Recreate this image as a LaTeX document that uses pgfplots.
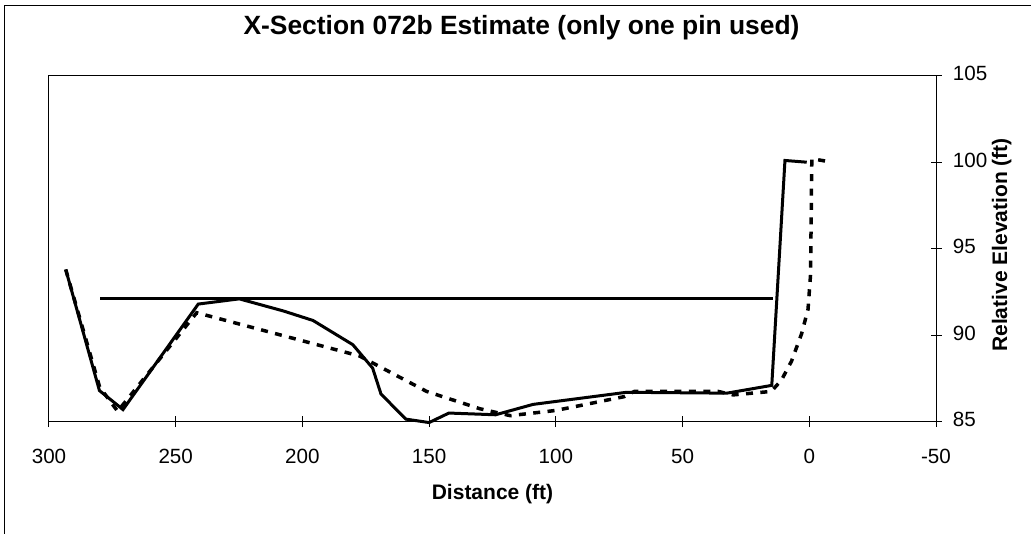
\documentclass[border=0pt]{standalone}
\usepackage{fontspec}
\setmainfont{Liberation Sans}
\usepackage{pgfplots}
\pgfplotsset{compat=1.18}

\begin{document}
\begin{tikzpicture}
% chart frame (only its left and top edges fall inside the page)
\draw[line width=0.7pt] (2.2pt,-20pt) -- (2.2pt,264.3pt) -- (540pt,264.3pt);
\begin{axis}[
  at={(24.5pt,56.15pt)}, anchor=south west,
  width=443.5pt, height=173pt, scale only axis,
  x dir=reverse,
  xmin=-50, xmax=300, ymin=85, ymax=105,
  xtick={300,250,200,150,100,50,0,-50},
  xticklabels={300,250,200,150,100,50,0,-50},
  ytick={85,90,95,100,105},
  xtick pos=left, ytick pos=right, yticklabel pos=right,
  tick align=center, major tick length=5.5pt,
  tick style={black, line width=0.5pt},
  axis line style={line width=0.5pt},
  ticklabel style={font=\fontsize{10.3}{12}\selectfont},
  xticklabel style={yshift=-7.5pt},
  yticklabel style={xshift=2.2pt, yshift=1pt},
  /pgf/number format/assume math mode=true,
  clip=false,
  title={X-Section 072b Estimate (only one pin used)},
  title style={font=\fontsize{13.2}{16}\selectfont\bfseries,
    at={(axis description cs:0.5327,1.1046)}, anchor=center},
  xlabel={Distance (ft)},
  xlabel style={font=\fontsize{10.5}{12}\selectfont\bfseries,
    at={(axis description cs:0.5,-0.209)}, anchor=center},
  ylabel={Relative Elevation (ft)},
  ylabel style={font=\fontsize{10.5}{12}\selectfont\bfseries,
    at={(axis description cs:1.074,0.5107)}, anchor=center},
]
% surveyed profile
\addplot[black, line width=1.5pt] coordinates {
  (293.4,93.8) (280.1,86.8) (270.8,85.7) (241.1,91.8) (224.9,92.1)
  (207.5,91.4) (195.8,90.85) (180.1,89.45) (172.3,88.1) (169,86.6)
  (159.2,85.15) (150,84.95) (142.2,85.5) (123.8,85.4) (109,86.0)
  (72.1,86.7) (32.5,86.65) (14.8,87.1) (9.6,100.1) (1,100.0)
};
% estimated profile
\addplot[black, line width=1.75pt, dash pattern=on 3.5pt off 3.7pt] coordinates {
  (293.4,93.8) (280,87) (272.9,85.6) (241.7,91.3) (177.5,88.8)
  (151,86.75) (130,85.75) (118,85.35) (100,85.65) (73,86.45)
  (69,86.75) (36,86.75) (30,86.55) (15,86.75) (11,87.4)
  (7,88.5) (3,90.1) (0.5,91.5) (-0.5,93.5) (-1,100.2) (-7,100.05)
};
% water surface
\addplot[black, line width=1.2pt] coordinates {(279.7,92.12) (14.4,92.12)};
\end{axis}
\pgfresetboundingbox
\path[use as bounding box] (0,0) rectangle (515.5pt,267pt);
\end{tikzpicture}
\end{document}
